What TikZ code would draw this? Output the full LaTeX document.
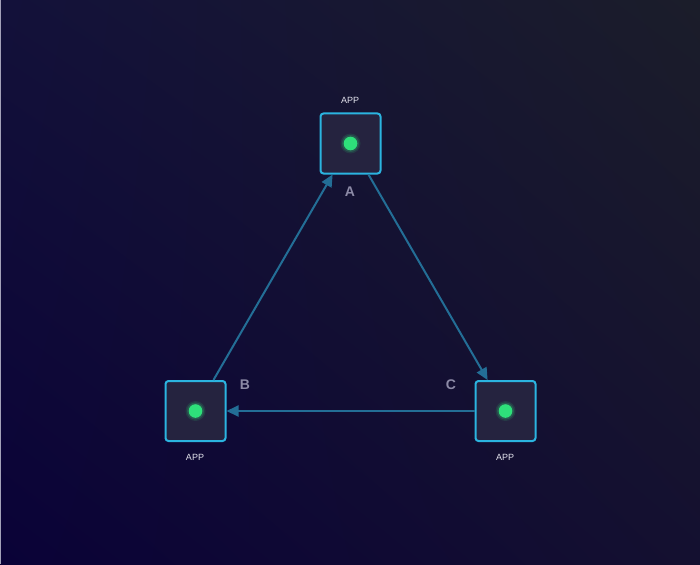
\documentclass[tikz,border=0pt]{standalone}
\usepackage{fontspec}
\setmainfont{Liberation Sans}
\usetikzlibrary{arrows.meta,shadings}
\definecolor{bgTL}{HTML}{13113A}
\definecolor{bgTR}{HTML}{1B1D2A}
\definecolor{bgBL}{HTML}{0A0237}
\definecolor{bgBR}{HTML}{141030}
\definecolor{boxfill}{HTML}{25233F}
\definecolor{boxline}{HTML}{2BB4E0}
\definecolor{edgecol}{HTML}{236E96}
\definecolor{dotcol}{HTML}{2EE07A}
\definecolor{lblcol}{HTML}{8C8AA6}
\definecolor{appcol}{HTML}{E4E4EE}
\tikzset{
  appbox/.style={draw=boxline, line width=2pt, fill=boxfill, rounded corners=3pt,
    minimum width=60pt, minimum height=60pt, inner sep=0pt},
  link/.style={draw=edgecol, line width=2pt, -{Triangle[length=12pt,width=11pt]}},
  applbl/.style={text=appcol, font=\fontsize{9}{10}\selectfont},
  letter/.style={text=lblcol, font=\fontsize{14}{16}\selectfont\bfseries},
}
\newcommand{\gdot}[1]{%
  \fill[dotcol, opacity=0.12] (#1) circle (10pt);
  \fill[dotcol, opacity=0.2] (#1) circle (8.5pt);
  \fill[dotcol] (#1) circle (6.8pt);
}
\begin{document}
\begin{tikzpicture}[x=1pt,y=-1pt]
\useasboundingbox (0,0) rectangle (700,564);
\shade[upper left=bgTL, upper right=bgTR, lower left=bgBL, lower right=bgBR] (0,0) rectangle (700,564);
\fill[lblcol!80] (0,0) rectangle (1.3,564);
\node[appbox] (A) at (350.5,143.5) {};
\node[appbox] (B) at (195.5,411) {};
\node[appbox] (C) at (505.5,411) {};
\draw[link] (B) -- (A);
\draw[link] (A) -- (C);
\draw[link] (C) -- (B);
\gdot{A.center}
\gdot{B.center}
\gdot{C.center}
\node[applbl] (lA) at (350,100) {APP};
\node[applbl] (lB) at (195,457) {APP};
\node[applbl] (lC) at (505,457) {APP};
\node[letter] (nA) at (350,191.5) {A};
\node[letter] (nB) at (245,385) {B};
\node[letter] (nC) at (451,385) {C};
\end{tikzpicture}
\end{document}
